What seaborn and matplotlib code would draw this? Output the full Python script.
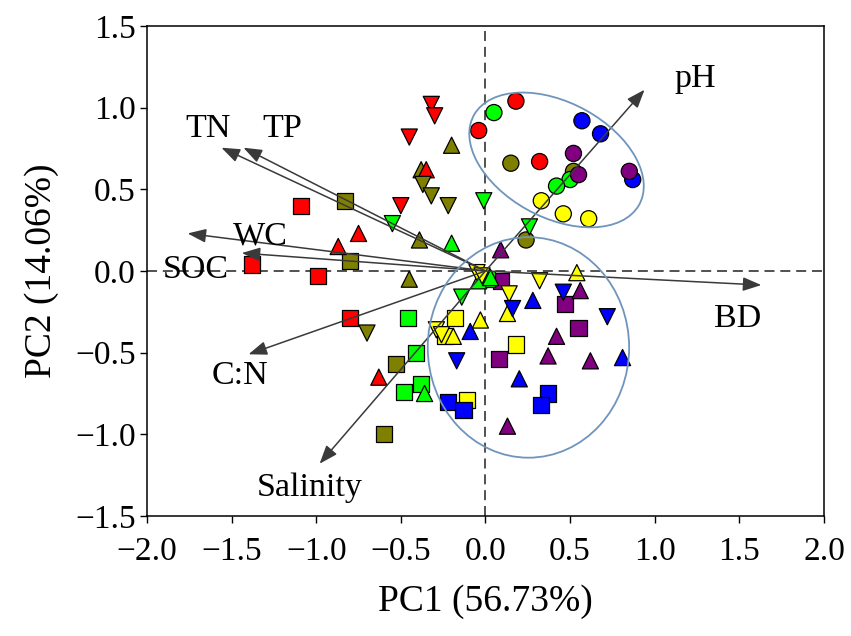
import pandas as pd
import numpy as np
import matplotlib
matplotlib.use('Agg')
import matplotlib.pyplot as plt
import seaborn as sns
from matplotlib.patches import Ellipse
from matplotlib.ticker import FuncFormatter

# sample scores (PC1, PC2), colour group and marker shape
circ_x = [0.15, 0.52, 0.24, -0.04, 0.05, 0.18, 0.57, 0.68, 0.32, 0.52, 0.50, 0.42, 0.87, 0.85, 0.55, 0.33, 0.46, 0.61]
circ_y = [0.66, 0.61, 0.19, 0.86, 0.97, 1.04, 0.92, 0.84, 0.67, 0.72, 0.56, 0.52, 0.56, 0.61, 0.59, 0.43, 0.35, 0.32]
circ_c = ['olive', 'olive', 'olive', 'red', 'green', 'red', 'blue', 'blue', 'red', 'purple', 'green', 'green', 'blue', 'purple', 'purple', 'yellow', 'yellow', 'yellow']

sq_x = [-1.09, -0.83, -0.80, -1.38, -0.99, -0.80, -0.46, -0.18, -0.24, -0.41, -0.53, -0.48, -0.38, -0.22, -0.11, -0.13, -0.60, 0.08, 0.09, 0.47, 0.55, 0.18, 0.37, 0.33, 0.01]
sq_y = [0.40, 0.43, 0.06, 0.04, -0.03, -0.29, -0.29, -0.29, -0.40, -0.50, -0.57, -0.74, -0.69, -0.80, -0.79, -0.85, -1.00, -0.54, -0.06, -0.20, -0.35, -0.45, -0.75, -0.82, -0.05]
sq_c = ['red', 'olive', 'olive', 'red', 'red', 'red', 'green', 'yellow', 'yellow', 'green', 'olive', 'green', 'green', 'blue', 'yellow', 'blue', 'olive', 'purple', 'purple', 'purple', 'purple', 'yellow', 'blue', 'blue', 'green']

up_x = [-0.20, -0.38, -0.35, -0.75, -0.39, -0.20, -0.87, -0.45, 0.09, 0.54, 0.56, 0.28, 0.13, -0.03, -0.19, -0.09, 0.42, 0.37, 0.62, 0.81, 0.20, -0.63, -0.36, 0.13, -0.04, 0.03]
up_y = [0.77, 0.62, 0.62, 0.23, 0.19, 0.17, 0.15, -0.05, 0.13, -0.01, -0.12, -0.18, -0.26, -0.30, -0.40, -0.37, -0.40, -0.52, -0.55, -0.53, -0.66, -0.65, -0.75, -0.95, -0.06, -0.04]
up_c = ['olive', 'olive', 'red', 'red', 'olive', 'green', 'red', 'olive', 'purple', 'yellow', 'purple', 'blue', 'yellow', 'yellow', 'yellow', 'blue', 'purple', 'purple', 'purple', 'blue', 'blue', 'red', 'green', 'purple', 'green', 'green']

dn_x = [-0.32, -0.30, -0.45, -0.37, -0.32, -0.22, -0.50, -0.55, -0.01, 0.26, -0.14, 0.32, 0.46, 0.14, 0.16, 0.72, -0.70, -0.29, -0.26, -0.17, -0.05, -0.02]
dn_y = [1.02, 0.95, 0.82, 0.53, 0.46, 0.40, 0.40, 0.29, 0.43, 0.27, -0.16, -0.06, -0.13, -0.14, -0.23, -0.28, -0.38, -0.36, -0.39, -0.55, -0.01, -0.03]
dn_c = ['red', 'red', 'red', 'olive', 'olive', 'olive', 'red', 'green', 'green', 'green', 'green', 'yellow', 'blue', 'yellow', 'blue', 'blue', 'olive', 'yellow', 'yellow', 'blue', 'yellow', 'yellow']

# loading vectors
var_names = ['pH', 'BD', 'TN', 'TP', 'WC', 'SOC', 'C:N', 'Salinity']
load_x = [0.94, 1.63, -1.56, -1.43, -1.76, -1.44, -1.40, -0.98]
load_y = [1.11, -0.086, 0.755, 0.755, 0.23, 0.11, -0.51, -1.18]
lab_x = [1.24, 1.49, -1.64, -1.20, -1.33, -1.71, -1.45, -1.04]
lab_y = [1.18, -0.29, 0.87, 0.87, 0.21, 0.01, -0.64, -1.33]

df = pd.DataFrame({
    'PC1': circ_x + sq_x + up_x + dn_x,
    'PC2': circ_y + sq_y + up_y + dn_y,
    'group': circ_c + sq_c + up_c + dn_c,
    'shape': ['c'] * len(circ_x) + ['s'] * len(sq_x) + ['u'] * len(up_x) + ['d'] * len(dn_x),
})

palette = {'red': '#FF0000', 'olive': '#808000', 'green': '#00FF00',
           'yellow': '#FFFF00', 'blue': '#0000FF', 'purple': '#800080'}
markers = {'c': 'o', 's': 's', 'u': '^', 'd': 'v'}

sns.set_style('ticks')
plt.rcParams['font.family'] = ['Liberation Serif', 'DejaVu Serif']
plt.rcParams['text.color'] = 'black'
plt.rcParams['axes.labelcolor'] = 'black'

fig = plt.figure(figsize=(8.51, 6.36), dpi=100)
ax = fig.add_axes([0.1727, 0.1887, 0.7955, 0.7704])

ax.axhline(0, color='#333333', lw=1.2, ls=(0, (6, 3.5)), zorder=1)
ax.axvline(0, color='#333333', lw=1.2, ls=(0, (6, 3.5)), zorder=1)

sns.scatterplot(data=df, x='PC1', y='PC2', hue='group', style='shape',
                palette=palette, markers=markers, s=135,
                edgecolor='black', linewidth=0.9, legend=False, ax=ax, zorder=3)

for name, lx, ly, tx, ty in zip(var_names, load_x, load_y, lab_x, lab_y):
    ax.annotate('', xy=(lx, ly), xytext=(0, 0),
                arrowprops=dict(arrowstyle='-|>,head_length=0.8,head_width=0.3',
                                color='#3a3a3a', lw=1.1, mutation_scale=14,
                                shrinkA=0, shrinkB=0), zorder=4)
    ax.text(tx, ty, name, fontsize=24.5, ha='center', va='center', color='black', zorder=5)

ax.add_patch(Ellipse((0.42, 0.68), 1.12, 0.70, angle=-30, fill=False,
                     edgecolor='#6F95BC', lw=1.3, zorder=4))
ax.add_patch(Ellipse((0.254, -0.468), 1.19, 1.35, angle=0, fill=False,
                     edgecolor='#6F95BC', lw=1.3, zorder=4))

fmt = FuncFormatter(lambda v, pos: ('%.1f' % v).replace('-', '\u2212'))
ax.set_xlim(-2, 2)
ax.set_ylim(-1.5, 1.5)
ax.set_xticks(np.arange(-2, 2.01, 0.5))
ax.set_yticks(np.arange(-1.5, 1.51, 0.5))
ax.xaxis.set_major_formatter(fmt)
ax.yaxis.set_major_formatter(fmt)
ax.tick_params(direction='out', length=5, width=1, labelsize=24, colors='black')
ax.tick_params(axis='x', pad=10)
ax.tick_params(axis='y', pad=3)
for sp in ax.spines.values():
    sp.set_linewidth(1.1)
    sp.set_color('black')
ax.set_xlabel('PC1 (56.73%)', fontsize=27, labelpad=12)
ax.set_ylabel('PC2 (14.06%)', fontsize=27, labelpad=12)

fig.savefig('out.png', dpi=100)
